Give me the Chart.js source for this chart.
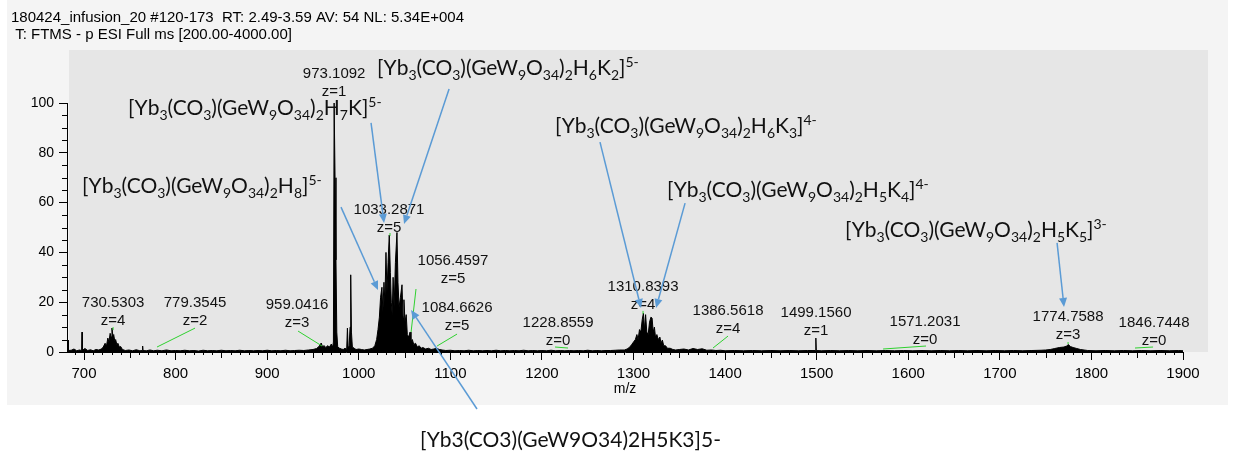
<!DOCTYPE html>
<html>
<head>
<meta charset="utf-8">
<script src="https://cdn.jsdelivr.net/npm/chart.js@4.4.0/dist/chart.umd.min.js"></script>
<style>
  html, body { margin: 0; padding: 0; background: #ffffff; }
  #wrap { position: relative; width: 1233px; height: 452px; }
</style>
</head>
<body>
<div id="wrap"><canvas id="spectrum" width="1233" height="452"></canvas></div>
<script>
// ─── Spectrum data (m/z, relative abundance) ──────────────────────────────────
const mzValues = [
  681.5, 682.3, 682.6, 683.0, 686, 689, 692, 695, 697.4, 697.8, 698.2, 701, 704, 707, 710, 713, 716,
  719, 721, 723, 724.5, 726, 727.2, 728.5, 729.5, 730.5, 731.5, 732.4, 733.5, 734.5, 735.8, 737, 738.5, 740, 742,
  745, 749, 753, 757, 761, 763.6, 764.0, 764.4, 768, 772, 776, 780, 785, 790, 795, 800, 805, 810, 815, 820,
  825, 830, 835, 840, 845, 850, 855, 860, 865, 870, 875, 880, 885, 890, 895, 900, 905, 910, 915, 920, 925,
  930, 935, 940, 945, 950, 954, 957, 959, 960.5, 962, 964, 966, 968, 970, 971.5, 972.3,
  973.1, 974.1, 975.1, 976, 977, 979, 981, 983, 985, 986.8, 987.6, 988.4, 989.5, 990.5, 991.2, 992, 993,
  995, 997, 1000, 1003, 1006, 1009, 1012, 1015, 1017.5, 1019.5, 1021, 1022.5, 1023.8, 1025.3, 1026.3,
  1027.5, 1028.5, 1029.7, 1030.8, 1032, 1033.3, 1034.5, 1035.5, 1036.5, 1037.5, 1038.6, 1040, 1041.7,
  1042.8, 1044, 1045.5, 1047.2, 1048.3, 1049.3, 1050.5, 1051.8, 1053, 1054.5, 1056, 1057, 1058.5, 1060,
  1062, 1064, 1066, 1068, 1070, 1073, 1076, 1079, 1082, 1085, 1088, 1091, 1095, 1100, 1105, 1110, 1115,
  1120, 1125, 1130, 1135, 1140, 1145, 1150, 1155, 1160, 1165, 1170, 1175, 1180, 1185, 1190, 1195, 1200,
  1205, 1210, 1215, 1220, 1225, 1230, 1235, 1240, 1245, 1250, 1255, 1260, 1265, 1270, 1275, 1280, 1285,
  1290, 1293, 1296, 1298, 1300, 1302, 1303.7, 1305, 1306.5, 1308, 1309.5, 1310.8, 1312, 1313.2, 1314.5,
  1316, 1317.5, 1319, 1320.3, 1321.5, 1322.8, 1324, 1325.5, 1327, 1328.8, 1330, 1331.5, 1333, 1335, 1337,
  1340, 1343, 1346, 1350, 1355, 1360, 1365, 1370, 1375, 1380, 1385, 1390, 1395, 1400, 1410, 1420, 1430,
  1440, 1450, 1460, 1470, 1480, 1490, 1498.6, 1499.1, 1499.6, 1505, 1515, 1525, 1535, 1545, 1555, 1565,
  1575, 1585, 1595, 1605, 1615, 1625, 1635, 1645, 1655, 1665, 1675, 1685, 1695, 1705, 1715, 1725, 1735,
  1745, 1750, 1755, 1760, 1765, 1770, 1773, 1774.8, 1777, 1780, 1784, 1788, 1792, 1796, 1805, 1815, 1825,
  1835, 1845, 1855, 1865, 1875, 1885, 1895, 1900
];
const relAbundance = [
  0.8, 0.6, 4.8, 0.6, 0.7, 1.2, 0.5, 0.8, 0.6, 8.0, 0.7, 1.4, 0.6, 0.9, 0.5, 1.0, 0.8,
  1.2, 2.0, 3.5, 2.5, 5.6, 4.0, 7.5, 6.0, 9.6, 6.5, 7.0, 4.5, 5.0, 3.0, 3.5, 2.0, 2.2, 1.0,
  0.6, 0.8, 0.5, 0.9, 0.5, 0.6, 2.4, 0.6, 0.5, 0.8, 0.5, 0.7, 0.5, 0.8, 0.5, 0.6, 0.5, 0.7, 0.5, 0.6,
  0.4, 0.7, 0.5, 0.6, 0.5, 0.7, 0.5, 0.6, 0.5, 0.7, 0.5, 0.6, 0.5, 0.6, 0.5, 0.7, 0.5, 0.6, 0.5, 0.7, 0.5,
  0.6, 0.7, 0.6, 0.8, 1.0, 1.4, 2.4, 3.6, 2.0, 2.6, 1.8, 2.5, 2.0, 3.2, 2.0, 4.0,
  100, 70, 37, 8, 2.0, 1.5, 1.2, 1.0, 1.5, 1.0, 9.6, 1.5, 2.5, 10, 31, 8, 2,
  1.5, 1.0, 1.2, 1.0, 0.8, 1.0, 1.2, 1.5, 2.5, 5, 9, 14, 22, 26, 16,
  28, 20, 40, 24, 36, 47, 32, 20, 15, 30, 18, 36, 48,
  28, 18, 22, 27, 14, 21, 12, 15, 7, 6, 8, 4, 5, 3,
  3.5, 2, 2.5, 1.5, 1.8, 1.2, 1.5, 1.0, 1.2, 1.5, 1.0, 0.8, 0.6, 0.7, 0.5, 0.6, 0.5,
  0.7, 0.5, 0.6, 0.5, 0.6, 0.5, 0.7, 0.5, 0.6, 0.5, 0.6, 0.5, 0.7, 0.5, 0.6, 0.5, 0.6,
  0.5, 0.7, 0.5, 0.6, 0.5, 0.6, 0.5, 0.6, 0.5, 0.7, 0.5, 0.6, 0.5, 0.6, 0.6, 0.7, 0.8,
  0.8, 1.2, 2, 3, 4, 5, 7, 5, 9, 8, 13, 15.6, 9, 15, 8,
  7, 12, 14, 13.6, 8, 10, 6, 7, 5, 6, 3.5, 4.8, 2.5, 2.5, 1.5,
  1.5, 1.0, 0.8, 1.0, 1.2, 0.8, 1.4, 1.0, 1.3, 0.7, 0.8, 0.6, 0.7, 0.5, 0.6, 0.5, 0.6,
  0.5, 0.6, 0.5, 0.6, 0.5, 0.6, 0.6, 5.6, 0.6, 0.5, 0.6, 0.5, 0.6, 0.5, 0.6, 0.5,
  0.6, 0.5, 0.6, 0.5, 0.6, 0.5, 0.6, 0.5, 0.6, 0.5, 0.6, 0.5, 0.6, 0.5, 0.6, 0.5, 0.6,
  0.7, 0.8, 1.0, 1.4, 1.8, 2.0, 2.4, 3.0, 2.2, 1.8, 1.4, 1.0, 0.8, 0.6, 0.5, 0.6, 0.5,
  0.6, 0.5, 0.6, 0.5, 0.6, 0.5, 0.6, 0.5
];

// ─── Axis ticks ───────────────────────────────────────────────────────────────
const xTickValues = [700, 800, 900, 1000, 1100, 1200, 1300, 1400, 1500, 1600, 1700, 1800, 1900];
const yTickValues = [0, 20, 40, 60, 80, 100];

// ─── Texts ────────────────────────────────────────────────────────────────────
const headerLines = [
  '180424_infusion_20 #120-173  RT: 2.49-3.59 AV: 54 NL: 5.34E+004',
  ' T: FTMS - p ESI Full ms [200.00-4000.00]'
];
const peakMasses  = ['973.1092', '730.5303', '779.3545', '959.0416', '1033.2871', '1056.4597', '1084.6626',
                     '1228.8559', '1310.8393', '1386.5618', '1499.1560', '1571.2031', '1774.7588', '1846.7448'];
const peakCharges = ['z=1', 'z=4', 'z=2', 'z=3', 'z=5', 'z=5', 'z=5',
                     'z=0', 'z=4', 'z=4', 'z=1', 'z=0', 'z=3', 'z=0'];
// "_" = subscript digits, "^" = superscript to the end
const ionFormulas = [
  '[Yb_3(CO_3)(GeW_9O_34)_2H_6K_2]^5-',
  '[Yb_3(CO_3)(GeW_9O_34)_2H_7K]^5-',
  '[Yb_3(CO_3)(GeW_9O_34)_2H_8]^5-',
  '[Yb_3(CO_3)(GeW_9O_34)_2H_6K_3]^4-',
  '[Yb_3(CO_3)(GeW_9O_34)_2H_5K_4]^4-',
  '[Yb_3(CO_3)(GeW_9O_34)_2H_5K_5]^3-'
];
const plainFormula = '[Yb3(CO3)(GeW9O34)2H5K3]5-';

// ─── Annotation layout (data coords: m/z, abundance) ──────────────────────────
const peakLabelAt = [[973.1, 111.6], [731.7, 19.7], [821.2, 19.7], [932.6, 18.9], [1033.0, 57.0], [1102.9, 36.5],
                     [1107.3, 17.7], [1217.6, 11.6], [1310.4, 26.1], [1403.2, 16.5], [1499.3, 15.7], [1618.3, 12.0],
                     [1774.5, 14.1], [1868.4, 11.6]];
const leaderLines = [
  [[731.7, 10.0], [731.7, 8.8]], [[821.2, 9.6], [779.7, 2.0]], [[933.7, 8.4], [959.9, 2.4]],
  [[1034.1, 47.8], [1034.1, 46.6]], [[1062.5, 25.3], [1057.1, 8.0]], [[1107.3, 7.2], [1085.5, 2.4]],
  [[1214.3, 2.0], [1228.5, 1.6]], [[1310.4, 16.5], [1310.4, 15.3]], [[1403.2, 6.4], [1386.8, 1.6]],
  [[1572.5, 1.2], [1619.4, 2.4]], [[1774.5, 4.0], [1774.5, 3.2]], [[1847.6, 1.6], [1867.3, 2.0]]
];
const formulaAt = [[1019.9, 111.2], [748.0, 95.2], [697.8, 63.9], [1214.3, 88.0], [1336.6, 62.2], [1531.0, 46.2]];
const plainFormulaAt = [1066.9, -38.2];
const arrows = [
  [[1013.4, 92.0], [1027.6, 51.8]], [[1098.6, 105.6], [1049.4, 51.4]], [[980.6, 58.2], [1021.0, 24.9]],
  [[1129.1, -22.9], [1057.1, 16.9]], [[1263.4, 84.3], [1308.2, 17.7]], [[1356.3, 59.8], [1324.6, 17.7]],
  [[1762.5, 43.8], [1770.1, 18.1]]
];

// ─── Helpers ──────────────────────────────────────────────────────────────────
const LABEL_FONT = 'Arial, "Liberation Sans", sans-serif';
const FORMULA_FONT = 'Lato, "Open Sans", sans-serif';

const drawFormula = (ctx, text, x, y, size) => {
    const base  = `${size}px ${FORMULA_FONT}`;
    const small = `${Math.round(size * 0.66)}px ${FORMULA_FONT}`;
    let i = 0;
    while (i < text.length) {
        const ch = text[i];
        if (ch === '_') {
            let j = i + 1;
            while (j < text.length && /\d/.test(text[j])) j++;
            const s = text.slice(i + 1, j);
            ctx.font = small;
            ctx.fillText(s, x, y + size * 0.22);
            x += ctx.measureText(s).width;
            i = j;
        } else if (ch === '^') {
            const s = text.slice(i + 1);
            ctx.font = small;
            ctx.fillText(s, x, y - size * 0.38);
            i = text.length;
        } else {
            let j = i;
            while (j < text.length && text[j] !== '_' && text[j] !== '^') j++;
            const s = text.slice(i, j);
            ctx.font = base;
            ctx.fillText(s, x, y);
            x += ctx.measureText(s).width;
            i = j;
        }
    }
};

const drawArrow = (ctx, x1, y1, x2, y2) => {
    const ang = Math.atan2(y2 - y1, x2 - x1);
    const len = 9, half = 4;
    const bx = x2 - len * Math.cos(ang), by = y2 - len * Math.sin(ang);
    ctx.beginPath();
    ctx.moveTo(x1, y1);
    ctx.lineTo(bx, by);
    ctx.stroke();
    ctx.beginPath();
    ctx.moveTo(x2, y2);
    ctx.lineTo(bx + half * Math.sin(ang), by - half * Math.cos(ang));
    ctx.lineTo(bx - half * Math.sin(ang), by + half * Math.cos(ang));
    ctx.closePath();
    ctx.fill();
};

// ─── Background panels ────────────────────────────────────────────────────────
const panelPlugin = {
    id: 'panels',
    beforeDraw(chart) {
        const { ctx, chartArea } = chart;
        ctx.save();
        ctx.fillStyle = '#ffffff';
        ctx.fillRect(0, 0, chart.width, chart.height);
        ctx.fillStyle = '#f4f4f4';
        ctx.fillRect(7, 0, 1221, 405);
        ctx.fillStyle = '#e6e6e6';
        ctx.fillRect(chartArea.left + 2, 50, chartArea.right + 25 - chartArea.left - 2, chartArea.bottom - 50);
        ctx.restore();
    }
};

// ─── Axes, minor ticks, labels and arrows ─────────────────────────────────────
const overlayPlugin = {
    id: 'overlay',
    afterDraw(chart) {
        const { ctx, chartArea } = chart;
        const xs = chart.scales.x, ys = chart.scales.y;
        const px = (m) => xs.getPixelForValue(m);
        const py = (v) => ys.getPixelForValue(v);
        ctx.save();

        // y axis line up to 100 and minor ticks
        ctx.strokeStyle = '#000';
        ctx.lineWidth = 1;
        ctx.beginPath();
        ctx.moveTo(chartArea.left + 0.5, py(0));
        ctx.lineTo(chartArea.left + 0.5, py(100));
        for (let v = 5; v <= 100; v += 5) {
            if (v % 20 === 0) continue;
            const y = Math.round(py(v)) + 0.5;
            ctx.moveTo(chartArea.left - 5, y);
            ctx.lineTo(chartArea.left, y);
        }
        for (let m = 690; m <= 1900; m += 10) {
            if (m % 100 === 0) continue;
            const x = Math.round(px(m)) + 0.5;
            const l = m % 50 === 0 ? 6 : 3;
            ctx.moveTo(x, chartArea.bottom);
            ctx.lineTo(x, chartArea.bottom + l);
        }
        ctx.stroke();

        // header
        ctx.fillStyle = '#000';
        ctx.font = `15px ${LABEL_FONT}`;
        ctx.textAlign = 'left';
        ctx.textBaseline = 'alphabetic';
        ctx.fillText(headerLines[0], 11, 22);
        ctx.fillText(headerLines[1], 11, 39);

        // axis title
        ctx.font = `14px ${LABEL_FONT}`;
        ctx.textAlign = 'center';
        ctx.textBaseline = 'middle';
        ctx.fillText('m/z', (chartArea.left + chartArea.right) / 2, chartArea.bottom + 37);

        // green leader lines
        ctx.strokeStyle = '#2fd12f';
        ctx.lineWidth = 1;
        leaderLines.forEach(([a, b]) => {
            ctx.beginPath();
            ctx.moveTo(px(a[0]), py(a[1]));
            ctx.lineTo(px(b[0]), py(b[1]));
            ctx.stroke();
        });

        // peak labels
        ctx.fillStyle = '#111';
        ctx.font = `15px ${LABEL_FONT}`;
        peakMasses.forEach((m, i) => {
            const x = px(peakLabelAt[i][0]), y = py(peakLabelAt[i][1]);
            ctx.fillText(m, x, y);
            ctx.fillText(peakCharges[i], x, y + 17.5);
        });

        // blue arrows
        ctx.strokeStyle = '#5b9bd5';
        ctx.fillStyle = '#5b9bd5';
        ctx.lineWidth = 1.5;
        arrows.forEach(([a, b]) => drawArrow(ctx, px(a[0]), py(a[1]), px(b[0]), py(b[1])));

        // ion formulas
        ctx.fillStyle = '#111';
        ctx.textAlign = 'left';
        ctx.textBaseline = 'alphabetic';
        ionFormulas.forEach((f, i) => drawFormula(ctx, f, px(formulaAt[i][0]), py(formulaAt[i][1]), 21));
        ctx.font = `21px ${FORMULA_FONT}`;
        ctx.fillText(plainFormula, px(plainFormulaAt[0]), py(plainFormulaAt[1]));

        ctx.restore();
    }
};

// ─── Chart ────────────────────────────────────────────────────────────────────
const ctx = document.getElementById('spectrum').getContext('2d');
new Chart(ctx, {
    type: 'line',
    data: {
        datasets: [{
            data: mzValues.map((m, i) => ({ x: m, y: relAbundance[i] })),
            borderColor: '#000000',
            backgroundColor: '#000000',
            borderWidth: 1,
            pointRadius: 0,
            fill: 'origin',
            tension: 0
        }]
    },
    options: {
        responsive: false,
        animation: false,
        devicePixelRatio: 1,
        layout: { padding: { left: 7, right: 50, top: 50, bottom: 0 } },
        plugins: { legend: { display: false }, tooltip: { enabled: false } },
        scales: {
            x: {
                type: 'linear',
                min: 681.4,
                max: 1900,
                afterBuildTicks: (s) => { s.ticks = xTickValues.map(v => ({ value: v })); },
                afterFit: (s) => { s.height = 100; },
                grid: { display: true, drawOnChartArea: false, tickLength: 8, tickColor: '#000' },
                border: { display: true, color: '#000' },
                ticks: {
                    color: '#000', padding: 5, maxRotation: 0, autoSkip: false,
                    font: { family: LABEL_FONT, size: 15 },
                    callback: (v) => String(v)
                }
            },
            y: {
                min: 0,
                max: 121.3,
                afterBuildTicks: (s) => { s.ticks = yTickValues.map(v => ({ value: v })); },
                afterFit: (s) => { s.width = 60; },
                grid: { display: true, drawOnChartArea: false, tickLength: 8, tickColor: '#000' },
                border: { display: false },
                ticks: {
                    color: '#000', padding: 5,
                    font: { family: LABEL_FONT, size: 14 },
                    callback: (v) => String(v)
                }
            }
        }
    },
    plugins: [panelPlugin, overlayPlugin]
});
</script>
</body>
</html>
